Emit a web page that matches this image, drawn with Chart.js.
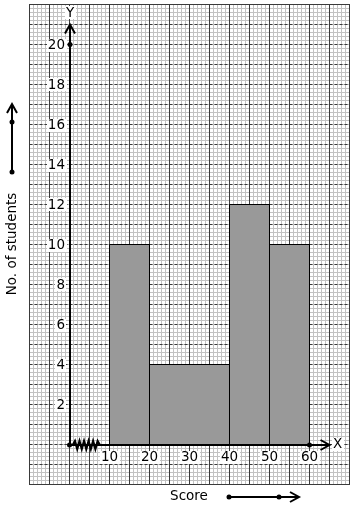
<!DOCTYPE html>
<html>
<head>
<meta charset="utf-8">
<script src="https://cdn.jsdelivr.net/npm/chart.js@4.4.1/dist/chart.umd.min.js"></script>
<style>
  html, body { margin: 0; padding: 0; background: #fff; }
  #wrap { width: 354px; height: 510px; }
</style>
</head>
<body>
<div id="wrap"><canvas id="c" width="354" height="510"></canvas></div>
<script>
// ---- data ----
const classStart = [10, 20, 40, 50];
const classEnd   = [20, 40, 50, 60];
const students   = [10, 4, 12, 10];
const xTickLabels = [10, 20, 30, 40, 50, 60];
const yTickLabels = [2, 4, 6, 8, 10, 12, 14, 16, 18, 20];
const xTitle = 'Score';
const yTitle = 'No. of students';

const FONT = '13.5px "DejaVu Sans", sans-serif';

const datasets = classStart.map((s, i) => ({
  data: [
    { x: s, y: 0 },
    { x: s, y: students[i] },
    { x: classEnd[i], y: students[i] },
    { x: classEnd[i], y: 0 }
  ],
  fill: 'origin',
  backgroundColor: '#999999',
  borderColor: '#000000',
  borderWidth: 1,
  pointRadius: 0,
  tension: 0,
  clip: false
}));

const gridPlugin = {
  id: 'graphPaper',
  beforeDatasetsDraw(chart) {
    const ctx = chart.ctx;
    const xs = chart.scales.x, ys = chart.scales.y;
    const a = chart.chartArea;
    ctx.save();
    ctx.fillStyle = '#ffffff';
    ctx.fillRect(a.left, a.top, a.right - a.left, a.bottom - a.top);
    // minor lines
    ctx.strokeStyle = '#c2c2c2';
    ctx.lineWidth = 1;
    ctx.beginPath();
    for (let v = xs.min; v <= xs.max + 1e-9; v += 1) {
      const p = xs.getPixelForValue(v);
      ctx.moveTo(p, a.top); ctx.lineTo(p, a.bottom);
    }
    for (let k = 0; k <= (ys.max - ys.min) * 5 + 1e-9; k++) {
      const p = ys.getPixelForValue(ys.min + k / 5);
      ctx.moveTo(a.left, p); ctx.lineTo(a.right, p);
    }
    ctx.stroke();
    // major vertical
    ctx.strokeStyle = '#3a3a3a';
    ctx.beginPath();
    for (let v = xs.min; v <= xs.max + 1e-9; v += 5) {
      const p = xs.getPixelForValue(v);
      ctx.moveTo(p, a.top); ctx.lineTo(p, a.bottom);
    }
    ctx.stroke();
    // major horizontal (dashed)
    ctx.setLineDash([3, 2]);
    ctx.beginPath();
    for (let v = ys.min; v <= ys.max + 1e-9; v += 1) {
      const p = ys.getPixelForValue(v);
      ctx.moveTo(a.left, p); ctx.lineTo(a.right, p);
    }
    ctx.stroke();
    ctx.setLineDash([]);
    // outer border
    ctx.strokeStyle = '#3a3a3a';
    ctx.strokeRect(a.left, a.top, a.right - a.left, a.bottom - a.top);
    ctx.restore();
  },
  afterDatasetsDraw(chart) {
    const ctx = chart.ctx;
    const xs = chart.scales.x, ys = chart.scales.y;
    const ox = xs.getPixelForValue(0) + 0.5;
    const oy = ys.getPixelForValue(0) + 0.5;
    const xEnd = xs.getPixelForValue(65);
    const yEnd = ys.getPixelForValue(21);
    ctx.save();
    ctx.strokeStyle = '#000';
    ctx.fillStyle = '#000';
    ctx.lineWidth = 2;
    ctx.lineCap = 'butt';
    // axes
    ctx.beginPath();
    ctx.moveTo(ox, oy); ctx.lineTo(xEnd, oy);
    ctx.moveTo(ox, oy); ctx.lineTo(ox, yEnd);
    ctx.stroke();
    // arrowheads
    ctx.beginPath();
    ctx.moveTo(xEnd - 9, oy - 5); ctx.lineTo(xEnd, oy); ctx.lineTo(xEnd - 9, oy + 5);
    ctx.moveTo(ox - 5, yEnd + 9); ctx.lineTo(ox, yEnd); ctx.lineTo(ox + 5, yEnd + 9);
    ctx.stroke();
    // zigzag break
    ctx.lineWidth = 2.2;
    ctx.beginPath();
    const z0 = xs.getPixelForValue(0.8), z1 = xs.getPixelForValue(7.6);
    const n = 12;
    ctx.moveTo(z0, oy);
    for (let i = 1; i <= n; i++) {
      const px = z0 + (z1 - z0) * i / n;
      const py = i === n ? oy : oy + (i % 2 ? -4 : 4);
      ctx.lineTo(px, py);
    }
    ctx.stroke();
    // dots
    const dot = (x, y) => { ctx.beginPath(); ctx.arc(x, y, 2.5, 0, Math.PI * 2); ctx.fill(); };
    dot(ox - 0.5, oy);
    dot(xs.getPixelForValue(60), oy);
    dot(ox, ys.getPixelForValue(20));
    // tick labels
    ctx.font = FONT;
    ctx.textBaseline = 'middle';
    const label = (txt, x, y, align) => {
      const w = ctx.measureText(txt).width;
      let lx = align === 'right' ? x - w : (align === 'center' ? x - w / 2 : x);
      ctx.fillStyle = '#fff';
      ctx.fillRect(Math.round(lx) - 1, Math.round(y) - 6, Math.ceil(w) + 2, 13);
      ctx.fillStyle = '#000';
      ctx.textAlign = 'left';
      ctx.fillText(txt, lx, y + 0.5);
    };
    yTickLabels.forEach(v => label(String(v), ox - 5, ys.getPixelForValue(v), 'right'));
    xTickLabels.forEach(v => label(String(v), xs.getPixelForValue(v), oy + 11.5, 'center'));
    label('Y', ox, yEnd - 12, 'center');
    label('X', xEnd + 8, oy - 1, 'center');
    // axis titles
    ctx.fillStyle = '#000';
    ctx.textAlign = 'center';
    ctx.fillText(xTitle, 189, 496);
    ctx.save();
    ctx.translate(12, 244);
    ctx.rotate(-Math.PI / 2);
    ctx.fillText(yTitle, 0, 0);
    ctx.restore();
    // direction arrows
    ctx.lineWidth = 2;
    ctx.beginPath();
    ctx.moveTo(12, 172); ctx.lineTo(12, 104);
    ctx.moveTo(7, 113); ctx.lineTo(12, 104); ctx.lineTo(17, 113);
    ctx.moveTo(229, 497); ctx.lineTo(299, 497);
    ctx.moveTo(290, 492); ctx.lineTo(299, 497); ctx.lineTo(290, 502);
    ctx.stroke();
    dot(12, 122); dot(12, 172);
    dot(229, 497); dot(279, 497);
    ctx.restore();
  }
};

new Chart(document.getElementById('c'), {
  type: 'line',
  data: { datasets },
  options: {
    responsive: false,
    animation: false,
    layout: { padding: { left: 29.5, top: 4.5, right: 4.5, bottom: 25.5 } },
    plugins: { legend: { display: false }, tooltip: { enabled: false } },
    scales: {
      x: { type: 'linear', min: -10, max: 70, display: false },
      y: { type: 'linear', min: -2, max: 22, display: false }
    }
  },
  plugins: [gridPlugin]
});
</script>
</body>
</html>
